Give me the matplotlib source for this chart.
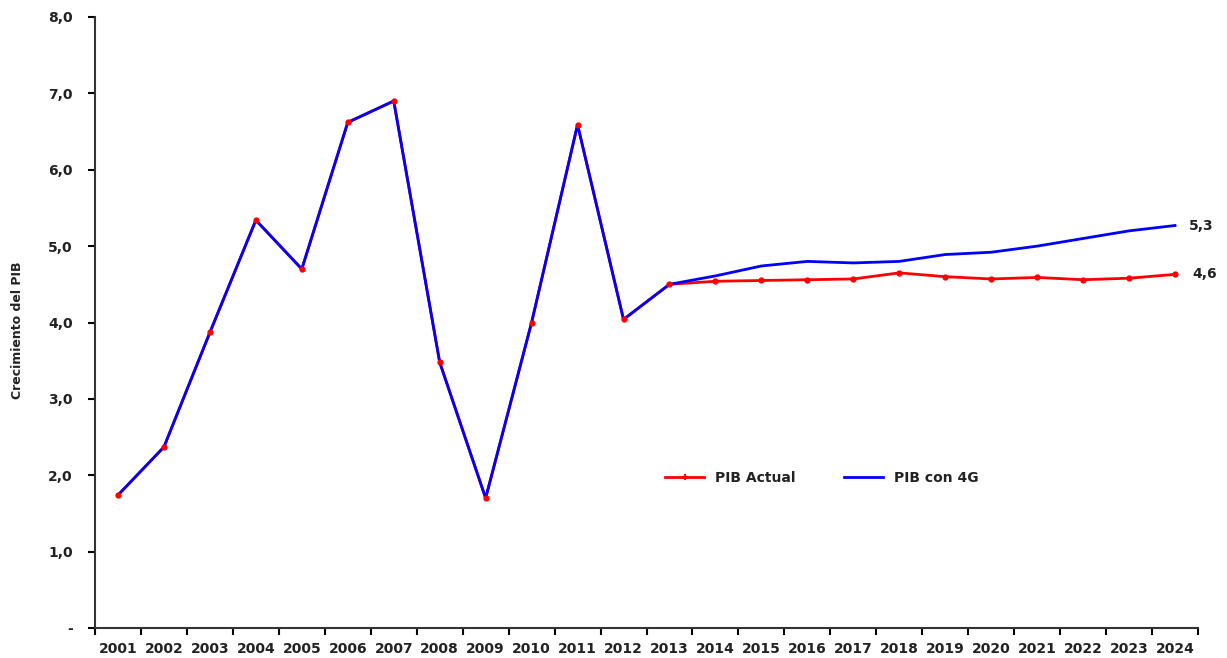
import matplotlib
matplotlib.use("Agg")
import matplotlib.pyplot as plt
from matplotlib.lines import Line2D

years = [str(y) for y in range(2001, 2025)]
pib_actual = [1.74, 2.37, 3.87, 5.34, 4.70, 6.62, 6.90, 3.48, 1.70, 4.00, 6.59, 4.04,
              4.50, 4.54, 4.55, 4.56, 4.57, 4.65, 4.60, 4.57, 4.59, 4.56, 4.58, 4.63]
pib_4g = [1.74, 2.37, 3.87, 5.34, 4.70, 6.62, 6.90, 3.48, 1.70, 4.00, 6.59, 4.04,
          4.50, 4.61, 4.74, 4.80, 4.78, 4.80, 4.89, 4.92, 5.00, 5.10, 5.20, 5.27]
yticks = [0, 1, 2, 3, 4, 5, 6, 7, 8]
ytick_labels = ["-", "1,0", "2,0", "3,0", "4,0", "5,0", "6,0", "7,0", "8,0"]
end_labels = ["4,6", "5,3"]

plt.rcParams['font.family'] = ['DejaVu Sans']
txt = '#222222'

fig = plt.figure(figsize=(12.27, 6.58), dpi=100)
ax = fig.add_axes([95/1227, 1-628/658, (1198-95)/1227, (628-17)/658])

x = [i + 0.5 for i in range(len(years))]
ax.plot(x, pib_actual, color='#ff0000', lw=2.0, zorder=2)
ax.plot(x, pib_4g, color='#0000ff', lw=2.0, zorder=3)
ax.plot(x, pib_actual, color='#ff0000', lw=0, marker='o', ms=3.5, zorder=4)

ax.text(x[-1] + 0.3, pib_4g[-1], end_labels[1], fontsize=10, fontweight='bold',
        color=txt, va='center', ha='left')
ax.text(x[-1] + 0.38, pib_actual[-1], end_labels[0], fontsize=10, fontweight='bold',
        color=txt, va='center', ha='left')

ax.set_xlim(0, len(years))
ax.set_ylim(0, 8)
ax.set_xticks(range(len(years) + 1))
ax.set_xticklabels([])
ax.set_xticks(x, minor=True)
ax.set_xticklabels(years, minor=True, fontsize=10, fontweight='bold', color=txt)
ax.tick_params(axis='x', which='minor', length=0, pad=10)
ax.tick_params(axis='x', which='major', length=5, width=1.5, direction='out')
ax.set_yticks(yticks)
ax.set_yticklabels(ytick_labels, fontsize=10, fontweight='bold', color=txt)
ax.tick_params(axis='y', length=5, width=1.5, pad=11)

for s in ['top', 'right']:
    ax.spines[s].set_visible(False)
for s in ['left', 'bottom']:
    ax.spines[s].set_linewidth(1.5)
    ax.spines[s].set_color('#333333')

ax.set_ylabel("Crecimiento del PIB", fontsize=9, fontweight='bold', color=txt)
ax.yaxis.set_label_coords(-(95 - 24) / 1103, (628 - 330) / 611)

handles = [Line2D([], [], color='#ff0000', lw=2, marker='+', ms=5, mew=1.5),
           Line2D([], [], color='#0000ff', lw=2)]
ax.legend(handles, ["PIB Actual", "PIB con 4G"], ncol=2, frameon=False,
          prop={'size': 10, 'weight': 'bold'}, handlelength=2.8, columnspacing=3.5,
          loc='center', bbox_to_anchor=((822-95)/1103, (628-478)/611), labelcolor=txt)

fig.savefig("out.png", dpi=100)
